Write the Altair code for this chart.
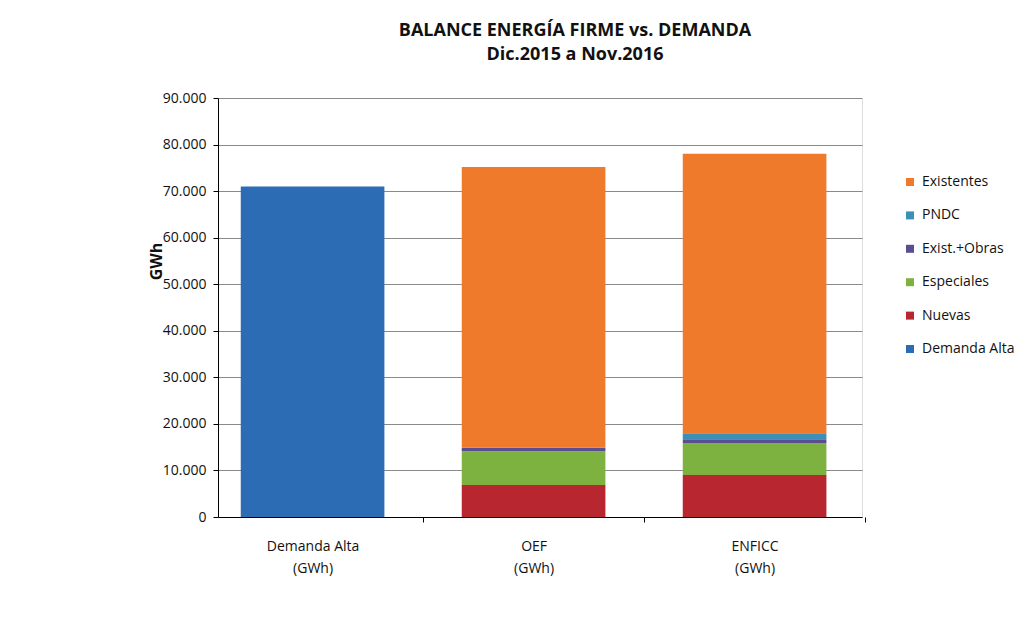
import altair as alt
import pandas as pd

categories = ["Demanda Alta (GWh)", "OEF (GWh)", "ENFICC (GWh)"]
series = ["Existentes", "PNDC", "Exist.+Obras", "Especiales", "Nuevas", "Demanda Alta"]
stack_order = ["Demanda Alta", "Nuevas", "Especiales", "Exist.+Obras", "PNDC", "Existentes"]
colors = ["#EF7A2C", "#3E8FB8", "#5A4E8E", "#7DB241", "#B8262F", "#2C6CB4"]

demanda_alta = [71000, 0, 0]
nuevas = [0, 6900, 9000]
especiales = [0, 7200, 6900]
exist_obras = [0, 800, 800]
pndc = [0, 0, 1300]
existentes = [0, 60300, 60000]

values = {
    "Demanda Alta": demanda_alta,
    "Nuevas": nuevas,
    "Especiales": especiales,
    "Exist.+Obras": exist_obras,
    "PNDC": pndc,
    "Existentes": existentes,
}

rows = []
for s in stack_order:
    for c, v in zip(categories, values[s]):
        rows.append({"cat": c, "serie": s, "valor": v, "idx": stack_order.index(s)})
df = pd.DataFrame(rows)

FONT = "Open Sans"

bars = alt.Chart(df).mark_bar().encode(
    x=alt.X("cat:N", sort=categories,
            scale=alt.Scale(paddingInner=0.35, paddingOuter=0.132, align=0.39),
            axis=alt.Axis(title=None, labelAngle=0, labelFontSize=14, labelFont=FONT,
                          labelColor="#111", labelPadding=17, labelLineHeight=22,
                          labelExpr="[replace(datum.label, ' (GWh)', ''), '(GWh)']",
                          tickOffset=110, labelOffset=-110, tickSize=5, tickColor="#000",
                          domainColor="#000", grid=False)),
    y=alt.Y("valor:Q", stack="zero",
            scale=alt.Scale(domain=[0, 90000], nice=False),
            axis=alt.Axis(values=list(range(0, 90001, 10000)), title="GWh",
                          titleFont=FONT, titleFontSize=16, titleFontWeight="bold",
                          titleColor="#111", titleAngle=-90, titleX=-62, titleY=163,
                          titleAlign="center", titleBaseline="middle",
                          labelFont=FONT, labelFontSize=14, labelColor="#111",
                          labelPadding=7, tickSize=5, tickColor="#000",
                          domainColor="#000", gridColor="#8a8a8a", gridWidth=1,
                          labelExpr="replace(format(datum.value, ','), ',', '.')")),
    color=alt.Color("serie:N", scale=alt.Scale(domain=series, range=colors),
                    legend=alt.Legend(title=None, orient="none", legendX=685, legendY=77,
                                      symbolType="square", symbolSize=64,
                                      symbolStrokeWidth=0, labelFont=FONT,
                                      labelFontSize=14, labelColor="#111",
                                      rowPadding=19.4, labelOffset=5)),
    order=alt.Order("idx:Q"),
)

chart = bars.properties(
    width=644,
    height=419,
    padding={"left": 210, "top": 90, "right": 163, "bottom": 115},
    autosize=alt.AutoSizeParams(type="none"),
    title=alt.TitleParams(
        text=["BALANCE ENERGÍA FIRME vs. DEMANDA", "Dic.2015 a Nov.2016"],
        font=FONT, fontSize=18, fontWeight="bold", color="#111",
        anchor="middle", dx=35, offset=27, lineHeight=24),
).configure_view(stroke=None).configure(background="white")

chart.save("out.html", embed_options={"renderer": "svg", "actions": False})
